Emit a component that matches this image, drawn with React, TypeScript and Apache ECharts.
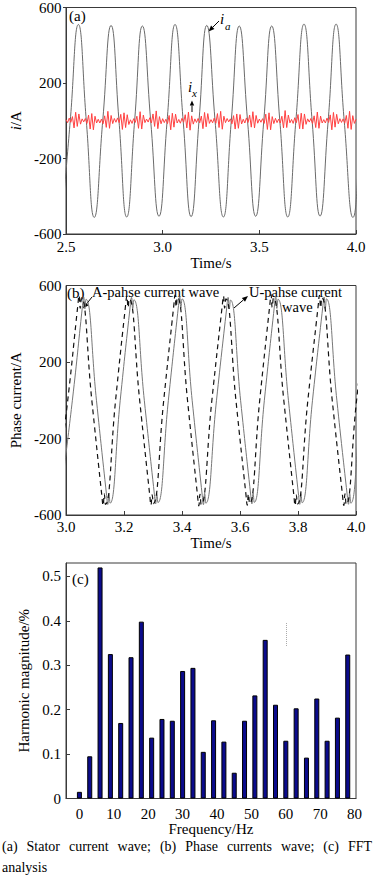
import React, { useEffect, useRef } from "react";
import * as echarts from "echarts";

const FONT = '"Liberation Serif", "Times New Roman", serif';

// ---------- Panel (a): stator current ----------
// key points of i_a: [time s, current A]
const iaPoints: [number, number][] = [
  [2.480, -510], [2.522, 0], [2.564, 510], [2.605, 0], [2.646, -512], [2.690, 0],
  [2.733, 505], [2.774, 0], [2.814, -510], [2.855, 0], [2.895, 502], [2.938, 0],
  [2.981, -506], [3.023, 0], [3.064, 510], [3.106, 0], [3.147, -508], [3.188, 0],
  [3.228, 505], [3.271, 0], [3.314, -510], [3.355, 0], [3.396, 502], [3.439, 0],
  [3.481, -506], [3.523, 0], [3.564, 502], [3.606, 0], [3.647, -510], [3.689, 0],
  [3.731, 512], [3.773, 0], [3.814, -505], [3.856, 0], [3.897, 512], [3.939, 0],
  [3.984, -512], [4.026, 0], [4.067, 510],
];
// i_x noise band sampled every 1/120 s from 2.5 s
const ixStart = 2.5;
const ixStep = 1 / 120;
const ixValues = [
  6, -10, 14, -8, 22, -38, 45, -30, 36, -18,
  10, -6, 12, -14, 30, -44, 38, -48, 24, -12,
  8, -12, 9, -16, 26, -35, 50, -40, 28, -15,
  12, -8, 15, -10, 34, -46, 42, -36, 32, -20,
  5, -14, 11, -9, 24, -40, 48, -44, 30, -10,
  9, -7, 16, -12, 36, -30, 52, -42, 22, -16,
  11, -10, 8, -15, 28, -48, 40, -34, 35, -12,
  7, -13, 13, -8, 32, -38, 46, -50, 26, -18,
  10, -9, 12, -11, 25, -42, 44, -32, 38, -14,
  6, -11, 14, -13, 38, -36, 50, -45, 24, -10,
  12, -6, 10, -16, 27, -44, 36, -40, 33, -17,
  8, -12, 15, -9, 30, -34, 48, -38, 28, -13,
  9, -8, 11, -14, 35, -46, 42, -48, 22, -15,
  13, -10, 9, -12, 24, -38, 54, -36, 30, -11,
  7, -14, 16, -10, 33, -42, 40, -44, 36, -19,
  10, -7, 12, -15, 26, -36, 46, -40, 25, -12,
  6, -12, 14, -9, 31, -48, 44, -34, 34, -16,
  11, -9, 10, -13, 28, -40, 50, -46, 27, -14,
  8,
];

// ---------- Panel (b): phase currents ----------
const aPhasePoints: [number, number][] = [
  [2.964, -520], [3.006, 0],
  [3.041, 500], [3.045, 548], [3.049, 480], [3.053, 535], [3.089, 0],
  [3.124, -505], [3.128, -550], [3.132, -490], [3.136, -545], [3.171, 0],
  [3.206, 505], [3.210, 545], [3.214, 485], [3.218, 530], [3.254, 0],
  [3.289, -500], [3.293, -548], [3.297, -495], [3.301, -540], [3.337, 0],
  [3.372, 500], [3.376, 550], [3.380, 488], [3.384, 538], [3.419, 0],
  [3.454, -505], [3.458, -552], [3.462, -492], [3.466, -545], [3.503, 0],
  [3.539, 498], [3.543, 545], [3.547, 482], [3.551, 530], [3.586, 0],
  [3.621, -500], [3.625, -548], [3.629, -490], [3.633, -540], [3.668, 0],
  [3.703, 502], [3.707, 552], [3.711, 486], [3.715, 534], [3.751, 0],
  [3.786, -502], [3.790, -550], [3.794, -494], [3.798, -542], [3.834, 0],
  [3.870, 500], [3.874, 548], [3.878, 484], [3.882, 536], [3.918, 0],
  [3.954, -505], [3.958, -550], [3.962, -490], [3.966, -545], [4.002, 0],
  [4.043, 520],
];
const uPhasePoints: [number, number][] = [
  [2.980, -520], [3.022, 0],
  [3.057, 495], [3.061, 540], [3.065, 478], [3.069, 528], [3.105, 0],
  [3.140, -498], [3.144, -545], [3.148, -485], [3.152, -538], [3.187, 0],
  [3.222, 500], [3.226, 538], [3.230, 480], [3.234, 525], [3.270, 0],
  [3.305, -495], [3.309, -542], [3.313, -488], [3.317, -535], [3.353, 0],
  [3.388, 496], [3.392, 542], [3.396, 482], [3.400, 530], [3.435, 0],
  [3.470, -500], [3.474, -546], [3.478, -486], [3.482, -538], [3.519, 0],
  [3.555, 494], [3.559, 538], [3.563, 478], [3.567, 524], [3.602, 0],
  [3.637, -496], [3.641, -542], [3.645, -484], [3.649, -534], [3.684, 0],
  [3.719, 498], [3.723, 545], [3.727, 480], [3.731, 528], [3.767, 0],
  [3.802, -498], [3.806, -544], [3.810, -488], [3.814, -536], [3.850, 0],
  [3.886, 496], [3.890, 540], [3.894, 480], [3.898, 530], [3.934, 0],
  [3.970, -500], [3.974, -544], [3.978, -486], [3.982, -538], [4.018, 0],
  [4.059, 520],
];

// ---------- Panel (c): FFT ----------
const fftFreqs = [0, 3, 6, 9, 12, 15, 18, 21, 24, 27, 30, 33, 36, 39, 42, 45, 48, 51, 54, 57, 60, 63, 66, 69, 72, 75, 78];
const fftValues = [
  0.015, 0.095, 0.52, 0.325, 0.17, 0.318, 0.398, 0.137, 0.179, 0.175, 0.287, 0.294, 0.105, 0.176,
  0.128, 0.058, 0.175, 0.232, 0.357, 0.211, 0.13, 0.203, 0.092, 0.225, 0.13, 0.182, 0.324,
];
const fftXTicks = [0, 10, 20, 30, 40, 50, 60, 70, 80];

const captionLine1 = ["(a)", "Stator", "current", "wave;", "(b)", "Phase", "currents", "wave;", "(c)", "FFT"];
const captionLine2 = "analysis";

function arrow(x1: number, y1: number, x2: number, y2: number, head = 6, half = 2.4) {
  const dx = x2 - x1, dy = y2 - y1;
  const len = Math.hypot(dx, dy);
  const ux = dx / len, uy = dy / len;
  const bx = x2 - ux * head, by = y2 - uy * head;
  const px = -uy * half, py = ux * half;
  return [
    { type: "line", shape: { x1, y1, x2: bx, y2: by }, style: { stroke: "#000", lineWidth: 1 } },
    { type: "polygon", shape: { points: [[x2, y2], [bx + px, by + py], [bx - px, by - py]] }, style: { fill: "#000" } },
  ];
}

function txt(text: string, x: number, y: number, size = 15, italic = false, align = "left") {
  return {
    type: "text",
    style: {
      text, x, y, fill: "#000", fontSize: size, fontFamily: FONT,
      fontStyle: italic ? "italic" : "normal", align, verticalAlign: "middle",
    },
  };
}

function captionGraphics() {
  const out: any[] = [];
  const size = 14;
  const ctx = document.createElement("canvas").getContext("2d")!;
  ctx.font = `${size}px "Liberation Serif"`;
  const widths = captionLine1.map((w) => ctx.measureText(w).width);
  const total = widths.reduce((a, b) => a + b, 0);
  const left = 2, right = 372;
  const gap = (right - left - total) / (captionLine1.length - 1);
  let x = left;
  captionLine1.forEach((w, i) => {
    out.push(txt(w, x, 846, size));
    x += widths[i] + gap;
  });
  out.push(txt(captionLine2, left, 867, size));
  return out;
}

const labelStyle = { color: "#000", fontSize: 15, fontFamily: FONT };
const nameStyle = { color: "#000", fontSize: 15, fontFamily: FONT };

function buildOption(): any {
  const ixData = ixValues.map((v, i) => [ixStart + i * ixStep, v]);
  const fftData = fftFreqs.map((f, i) => [f, fftValues[i]]);
  const grids = [
    { left: 66, top: 4.5, width: 290, height: 229.5 },
    { left: 66, top: 285.5, width: 290, height: 229.5 },
    { left: 66, top: 563, width: 290, height: 235.5 },
  ].map((g) => ({ ...g, show: true, borderColor: "#3a3a3a", borderWidth: 1, backgroundColor: "transparent" }));

  const axisLine = { show: true, onZero: false, lineStyle: { color: "#3a3a3a", width: 1 } };

  return {
    animation: false,
    backgroundColor: "#fff",
    textStyle: { fontFamily: FONT },
    grid: grids,
    xAxis: [
      {
        gridIndex: 0, type: "value", min: 2.5, max: 4.0, interval: 0.5,
        axisLine, splitLine: { show: false },
        axisTick: { show: true, inside: true, length: 4, lineStyle: { color: "#3a3a3a" } },
        axisLabel: { ...labelStyle, margin: 5.5, formatter: (v: number) => v.toFixed(1) },
        name: "Time/s", nameLocation: "middle", nameGap: 21, nameTextStyle: nameStyle,
      },
      {
        gridIndex: 1, type: "value", min: 3.0, max: 4.0, interval: 0.2,
        axisLine, splitLine: { show: false },
        axisTick: { show: true, inside: true, length: 4, lineStyle: { color: "#3a3a3a" } },
        axisLabel: { ...labelStyle, margin: 4.5, formatter: (v: number) => v.toFixed(1) },
        name: "Time/s", nameLocation: "middle", nameGap: 19, nameTextStyle: nameStyle,
      },
      {
        gridIndex: 2, type: "value", min: -3.9, max: 80.4,
        axisLine, splitLine: { show: false },
        axisTick: { show: false, customValues: fftXTicks },
        axisLabel: { ...labelStyle, margin: 7.5, customValues: fftXTicks, formatter: (v: number) => String(v) },
        name: "Frequency/Hz", nameLocation: "middle", nameGap: 23, nameTextStyle: nameStyle,
      },
    ],
    yAxis: [
      {
        gridIndex: 0, type: "value", min: -600, max: 600, interval: 400,
        axisLine, splitLine: { show: false },
        axisTick: { show: true, inside: false, length: 3, lineStyle: { color: "#3a3a3a" } },
        axisLabel: { ...labelStyle, margin: 4.5, formatter: (v: number) => String(v) },
        name: "{it|i}/A", nameLocation: "middle", nameGap: 38,
        nameTextStyle: { ...nameStyle, rich: { it: { fontStyle: "italic", fontSize: 15, fontFamily: FONT, color: "#000" } } },
      },
      {
        gridIndex: 1, type: "value", min: -600, max: 600, interval: 400,
        axisLine, splitLine: { show: false },
        axisTick: { show: true, inside: true, length: 4, lineStyle: { color: "#3a3a3a" } },
        axisLabel: { ...labelStyle, margin: 4.5, formatter: (v: number) => String(v) },
        name: "Phase current/A", nameLocation: "middle", nameGap: 39.5, nameTextStyle: nameStyle,
      },
      {
        gridIndex: 2, type: "value", min: 0, max: 0.53, interval: 0.1,
        axisLine, splitLine: { show: false },
        axisTick: { show: true, inside: true, length: 4, lineStyle: { color: "#3a3a3a" } },
        axisLabel: { ...labelStyle, margin: 5, formatter: (v: number) => (v === 0 ? "0" : v.toFixed(1)) },
        name: "Harmonic magnitude/%", nameLocation: "middle", nameGap: 31.5, nameTextStyle: nameStyle,
      },
    ],
    series: [
      {
        type: "line", xAxisIndex: 0, yAxisIndex: 0, data: iaPoints, smooth: 0.5,
        showSymbol: false, lineStyle: { color: "#6a6a6a", width: 1 }, silent: true,
      },
      {
        type: "line", xAxisIndex: 0, yAxisIndex: 0, data: ixData, showSymbol: false,
        lineStyle: { color: "#ff4040", width: 1 }, silent: true,
      },
      {
        type: "line", xAxisIndex: 1, yAxisIndex: 1, data: uPhasePoints, smooth: 0.5,
        showSymbol: false, lineStyle: { color: "#777", width: 1 }, silent: true,
      },
      {
        type: "line", xAxisIndex: 1, yAxisIndex: 1, data: aPhasePoints, smooth: 0.5,
        showSymbol: false, lineStyle: { color: "#111", width: 1.2, type: [5, 4] }, silent: true,
      },
      {
        type: "bar", xAxisIndex: 2, yAxisIndex: 2, data: fftData, barWidth: 5,
        itemStyle: { color: "#0b0b8c", borderColor: "#000", borderWidth: 1 }, silent: true,
        markLine: {
          silent: true, symbol: "none", label: { show: false },
          lineStyle: { type: "dotted", color: "#aaa", width: 1 },
          data: [[{ coord: [60, 0.395] }, { coord: [60, 0.341] }]],
        },
      },
    ],
    graphic: [
      txt("(a)", 69, 15.5, 15),
      txt("i", 220, 19, 15, true),
      txt("a", 225, 26, 11, true),
      ...arrow(219, 21, 208.5, 31.5),
      txt("i", 188, 87, 15, true),
      txt("x", 192, 93, 11, true),
      ...arrow(192, 112, 192, 100.5, 5, 2.2),
      txt("(b)", 67, 293, 15),
      txt("A-pahse current wave", 92, 292, 14.5),
      ...arrow(92, 297, 83, 308.5),
      txt("U-pahse current", 249, 292, 14.5),
      txt("wave", 282, 307, 14.5),
      ...arrow(234, 308, 248, 296),
      txt("(c)", 72, 578.5, 15),
      ...captionGraphics(),
    ],
  };
}

export default function App() {
  const ref = useRef<HTMLDivElement>(null);
  useEffect(() => {
    const chart = echarts.init(ref.current!, null, { renderer: "svg" });
    chart.setOption(buildOption());
    return () => chart.dispose();
  }, []);
  return (
    <div
      ref={ref}
      style={{ position: "fixed", left: 0, top: 0, width: 376, height: 879, background: "#fff" }}
    />
  );
}
